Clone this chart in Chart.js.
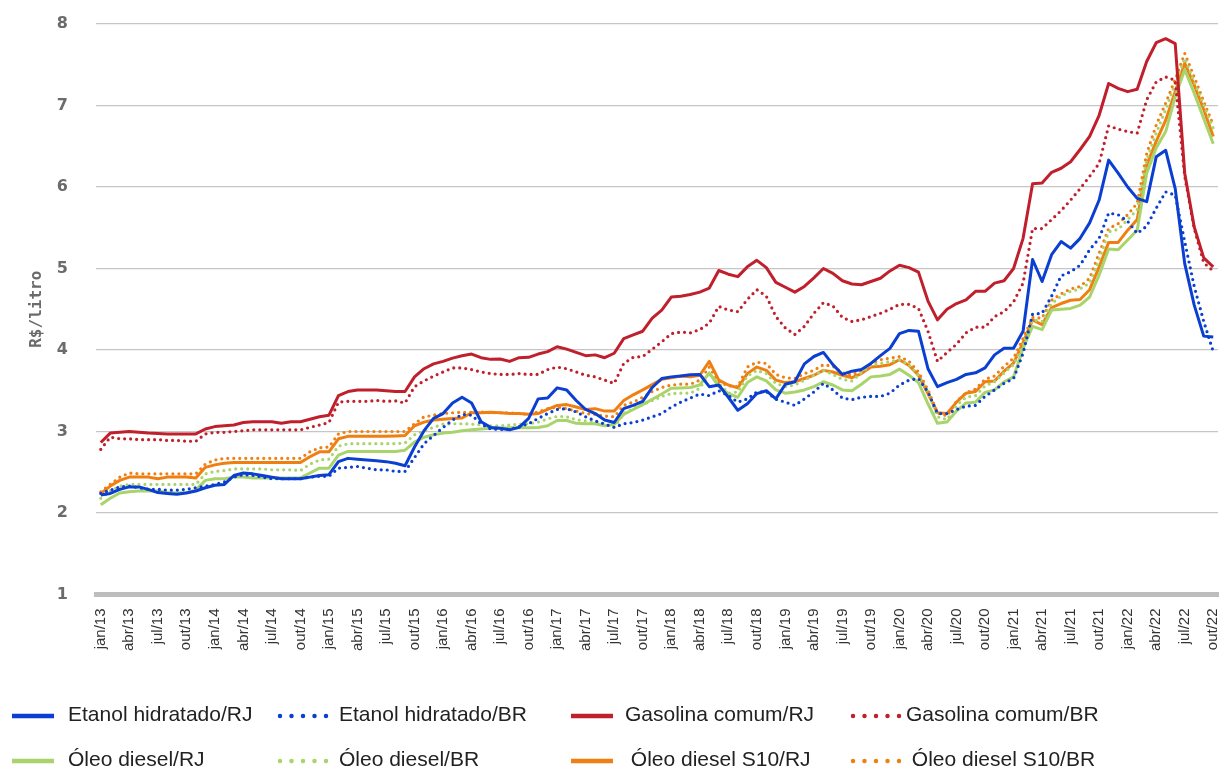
<!DOCTYPE html>
<html lang="pt-BR">
<head>
<meta charset="utf-8">
<title>Preços de combustíveis - RJ e BR</title>
<script src="https://cdn.jsdelivr.net/npm/chart.js@4.4.1/dist/chart.umd.min.js"></script>
<style>
  html, body { margin: 0; padding: 0; background: #fff; }
  #wrap { position: relative; width: 1222px; height: 771px; }
  #legenda { position: absolute; left: 0; top: 0; width: 1222px; height: 771px; pointer-events: none; }
  .item { position: absolute; height: 30px; }
  .item svg { position: absolute; top: 12px; }
  .item span { position: absolute; top: 2px; white-space: pre; font-family: "Liberation Sans", Arial, sans-serif; font-size: 21px; color: #222; }
</style>
</head>
<body>
<div id="wrap">
  <canvas id="grafico" width="1222" height="771"></canvas>
  <div id="legenda"></div>
</div>
<script>
// meses jan/13 ... out/22
const nomesMes = ['jan','fev','mar','abr','mai','jun','jul','ago','set','out','nov','dez'];
const anos = ['13','14','15','16','17','18','19','20','21','22'];
let meses = [];
for (let a = 0; a < anos.length; a++) {
    for (let m = 0; m < 12; m++) {
        if (anos[a] === '22' && m > 9) break;
        meses.push(nomesMes[m] + '/' + anos[a]);
    }
}

// R$/litro
let etanolRJ = [2.22,2.24,2.29,2.32,2.32,2.29,2.25,2.24,2.23,2.245,2.27,2.31,
    2.34,2.35,2.46,2.49,2.48,2.46,2.44,2.42,2.42,2.42,2.44,2.46,
    2.47,2.63,2.67,2.66,2.65,2.64,2.63,2.61,2.58,2.81,3.01,3.16,
    3.22,3.35,3.42,3.35,3.12,3.05,3.04,3.02,3.05,3.16,3.40,3.41,
    3.535,3.51,3.38,3.27,3.22,3.14,3.11,3.28,3.32,3.37,3.54,3.65,
    3.67,3.68,3.695,3.70,3.55,3.57,3.42,3.26,3.34,3.465,3.50,3.40,
    3.58,3.61,3.83,3.92,3.97,3.82,3.70,3.74,3.76,3.835,3.93,4.02,
    4.20,4.24,4.23,3.77,3.55,3.60,3.64,3.70,3.72,3.78,3.94,4.02,
    4.02,4.23,5.11,4.84,5.17,5.33,5.25,5.37,5.56,5.84,6.33,6.17,
    6.00,5.86,5.82,6.37,6.45,5.98,5.06,4.55,4.17,4.16];
let etanolBR = [2.24,2.28,2.32,2.33,2.31,2.29,2.29,2.28,2.28,2.29,2.31,2.33,
    2.35,2.38,2.44,2.47,2.46,2.44,2.42,2.42,2.42,2.42,2.44,2.45,
    2.45,2.55,2.56,2.57,2.55,2.53,2.53,2.51,2.51,2.68,2.85,2.95,
    3.05,3.14,3.21,3.20,3.095,3.03,3.025,3.025,3.06,3.095,3.16,3.22,
    3.27,3.28,3.24,3.18,3.13,3.09,3.05,3.095,3.11,3.14,3.18,3.22,
    3.30,3.36,3.41,3.46,3.44,3.50,3.44,3.36,3.40,3.485,3.49,3.395,
    3.36,3.32,3.40,3.485,3.59,3.51,3.41,3.39,3.42,3.43,3.43,3.47,
    3.57,3.63,3.65,3.485,3.22,3.22,3.27,3.31,3.32,3.43,3.51,3.59,
    3.65,3.96,4.44,4.45,4.66,4.91,4.96,5.04,5.23,5.37,5.68,5.66,
    5.58,5.43,5.52,5.74,5.94,5.90,5.33,4.78,4.35,3.98];
let gasolinaRJ = [2.865,2.98,2.99,3.0,2.99,2.98,2.975,2.97,2.97,2.97,2.97,3.03,
    3.06,3.07,3.08,3.11,3.12,3.12,3.12,3.10,3.12,3.12,3.15,3.18,
    3.20,3.44,3.49,3.51,3.51,3.51,3.50,3.49,3.49,3.67,3.77,3.83,
    3.86,3.90,3.93,3.95,3.905,3.885,3.89,3.86,3.905,3.91,3.95,3.98,
    4.04,4.01,3.97,3.93,3.94,3.905,3.96,4.14,4.185,4.23,4.39,4.49,
    4.65,4.66,4.68,4.71,4.76,4.975,4.93,4.90,5.02,5.10,5.01,4.83,
    4.77,4.71,4.78,4.885,5.0,4.94,4.85,4.81,4.80,4.84,4.88,4.97,
    5.04,5.01,4.955,4.60,4.37,4.50,4.57,4.615,4.72,4.72,4.82,4.85,
    5.0,5.37,6.04,6.05,6.18,6.23,6.31,6.46,6.62,6.88,7.27,7.21,
    7.17,7.2,7.54,7.77,7.82,7.76,6.17,5.51,5.13,5.02];
let gasolinaBR = [2.78,2.93,2.91,2.91,2.90,2.90,2.90,2.89,2.89,2.88,2.88,2.97,
    2.99,2.99,3.0,3.01,3.02,3.02,3.02,3.02,3.02,3.02,3.05,3.08,
    3.11,3.36,3.37,3.37,3.37,3.38,3.37,3.375,3.35,3.55,3.62,3.68,
    3.73,3.78,3.78,3.76,3.73,3.71,3.70,3.70,3.71,3.70,3.70,3.76,
    3.79,3.77,3.73,3.69,3.67,3.63,3.59,3.835,3.91,3.92,4.01,4.10,
    4.20,4.22,4.21,4.25,4.33,4.535,4.49,4.47,4.62,4.74,4.66,4.41,
    4.27,4.19,4.29,4.45,4.58,4.54,4.40,4.35,4.37,4.41,4.45,4.50,
    4.56,4.56,4.51,4.23,3.86,3.97,4.07,4.21,4.28,4.28,4.41,4.47,
    4.59,4.82,5.49,5.49,5.60,5.71,5.84,5.98,6.13,6.29,6.75,6.71,
    6.68,6.66,7.07,7.29,7.35,7.31,6.13,5.49,5.07,4.97];
let dieselRJ = [2.10,2.18,2.245,2.26,2.27,2.27,2.27,2.25,2.245,2.25,2.28,2.40,
    2.42,2.42,2.44,2.44,2.43,2.43,2.43,2.43,2.43,2.43,2.49,2.55,
    2.55,2.71,2.755,2.755,2.755,2.755,2.755,2.755,2.77,2.87,2.93,2.96,
    2.98,2.99,3.01,3.02,3.03,3.04,3.04,3.045,3.045,3.045,3.05,3.07,
    3.135,3.135,3.10,3.095,3.095,3.07,3.085,3.21,3.27,3.33,3.395,3.46,
    3.53,3.535,3.54,3.57,3.72,3.55,3.465,3.42,3.60,3.67,3.62,3.51,
    3.47,3.485,3.51,3.55,3.61,3.57,3.51,3.50,3.58,3.67,3.68,3.70,
    3.765,3.69,3.60,3.34,3.10,3.115,3.25,3.35,3.36,3.48,3.51,3.61,
    3.67,4.02,4.29,4.25,4.49,4.50,4.51,4.55,4.65,4.92,5.24,5.23,
    5.35,5.47,6.17,6.48,6.68,7.11,7.44,7.15,6.84,6.53];
let dieselBR = [2.18,2.27,2.33,2.35,2.35,2.35,2.35,2.35,2.35,2.35,2.35,2.48,
    2.51,2.52,2.54,2.54,2.54,2.54,2.53,2.53,2.53,2.52,2.60,2.65,
    2.66,2.82,2.85,2.85,2.85,2.85,2.85,2.85,2.86,2.96,3.01,3.05,
    3.09,3.095,3.095,3.09,3.08,3.07,3.07,3.08,3.09,3.095,3.115,3.155,
    3.185,3.18,3.145,3.13,3.115,3.095,3.05,3.22,3.28,3.33,3.38,3.43,
    3.465,3.47,3.47,3.53,3.71,3.59,3.47,3.485,3.68,3.75,3.71,3.59,
    3.55,3.57,3.63,3.69,3.75,3.70,3.64,3.62,3.72,3.815,3.835,3.86,
    3.88,3.815,3.69,3.485,3.18,3.145,3.32,3.42,3.44,3.56,3.61,3.72,
    3.82,4.06,4.37,4.35,4.57,4.66,4.72,4.75,4.82,5.11,5.45,5.48,
    5.60,5.72,6.33,6.66,6.95,7.27,7.58,7.29,7.01,6.72];
let s10RJ = [2.24,2.33,2.40,2.44,2.44,2.44,2.42,2.44,2.44,2.44,2.43,2.56,
    2.59,2.61,2.62,2.62,2.62,2.62,2.62,2.62,2.62,2.62,2.69,2.75,
    2.75,2.91,2.94,2.94,2.94,2.94,2.94,2.945,2.95,3.07,3.115,3.14,
    3.15,3.16,3.165,3.23,3.23,3.235,3.23,3.22,3.22,3.21,3.22,3.27,
    3.32,3.33,3.30,3.27,3.28,3.25,3.25,3.38,3.45,3.51,3.575,3.64,
    3.66,3.68,3.67,3.69,3.86,3.63,3.57,3.535,3.71,3.79,3.75,3.63,
    3.60,3.61,3.65,3.69,3.75,3.73,3.69,3.66,3.71,3.79,3.80,3.82,
    3.88,3.81,3.69,3.465,3.23,3.22,3.36,3.47,3.49,3.61,3.62,3.74,
    3.84,4.09,4.37,4.31,4.52,4.57,4.61,4.62,4.74,5.02,5.32,5.32,
    5.47,5.60,6.27,6.56,6.82,7.17,7.52,7.25,6.95,6.62];
let s10BR = [2.26,2.35,2.44,2.49,2.48,2.48,2.48,2.48,2.48,2.48,2.48,2.60,
    2.65,2.67,2.67,2.67,2.67,2.67,2.67,2.67,2.67,2.67,2.75,2.80,
    2.81,2.97,3.0,3.0,3.0,3.0,3.0,3.0,3.0,3.095,3.18,3.20,
    3.22,3.23,3.235,3.235,3.24,3.23,3.23,3.23,3.22,3.21,3.24,3.28,
    3.30,3.28,3.25,3.22,3.21,3.19,3.18,3.32,3.36,3.42,3.49,3.54,
    3.57,3.58,3.58,3.63,3.79,3.61,3.56,3.55,3.79,3.85,3.835,3.70,
    3.66,3.65,3.71,3.75,3.82,3.80,3.72,3.69,3.75,3.835,3.88,3.90,
    3.92,3.86,3.73,3.51,3.23,3.19,3.37,3.475,3.52,3.64,3.68,3.80,
    3.90,4.14,4.40,4.39,4.61,4.69,4.75,4.78,4.88,5.19,5.49,5.55,
    5.66,5.80,6.41,6.76,7.03,7.32,7.64,7.35,7.05,6.76];

const azul = '#0a3fd1';
const vermelho = '#c01f2c';
const verde = '#a9d46b';
const laranja = '#f07f12';
const pontilhado = [0, 6];

let series = [
    { label: 'Etanol hidratado/RJ', data: etanolRJ, cor: azul, pont: false },
    { label: 'Etanol hidratado/BR', data: etanolBR, cor: azul, pont: true },
    { label: 'Gasolina comum/RJ', data: gasolinaRJ, cor: vermelho, pont: false },
    { label: 'Gasolina comum/BR', data: gasolinaBR, cor: vermelho, pont: true },
    { label: 'Óleo diesel/RJ', data: dieselRJ, cor: verde, pont: false },
    { label: 'Óleo diesel/BR', data: dieselBR, cor: verde, pont: true },
    { label: ' Óleo diesel S10/RJ', data: s10RJ, cor: laranja, pont: false },
    { label: ' Óleo diesel S10/BR', data: s10BR, cor: laranja, pont: true }
];

let datasets = series.map(s => ({
    label: s.label,
    data: s.data,
    borderColor: s.cor,
    backgroundColor: s.cor,
    borderWidth: s.pont ? 3.2 : 3,
    borderDash: s.pont ? pontilhado : [],
    borderCapStyle: s.pont ? 'round' : 'butt',
    borderJoinStyle: 'round',
    pointRadius: 0,
    tension: 0,
    fill: false
}));

let ctx = document.getElementById('grafico').getContext('2d');
let grafico = new Chart(ctx, {
    type: 'line',
    data: { labels: meses, datasets: datasets },
    options: {
        responsive: false,
        animation: false,
        layout: { padding: { left: 27, right: 4, top: 24, bottom: 114 } },
        plugins: {
            legend: { display: false },
            tooltip: { enabled: false }
        },
        scales: {
            x: {
                offset: true,
                grid: { display: false },
                border: { display: true, color: '#bdbdbd', width: 5 },
                afterFit: function(s) { s.paddingLeft = 0; s.paddingRight = 0; },
                ticks: {
                    autoSkip: false,
                    minRotation: 90,
                    maxRotation: 90,
                    padding: 6,
                    color: '#333',
                    font: { family: 'Liberation Sans', size: 15 },
                    callback: function(v, i) { return i % 3 === 0 ? meses[i] : ''; }
                }
            },
            y: {
                min: 1,
                max: 8,
                border: { display: false },
                grid: { color: '#c6c6c6', lineWidth: 1.2, drawTicks: false },
                afterFit: function(s) { s.paddingTop = 0; s.paddingBottom = 0; s.width = 69; },
                ticks: {
                    stepSize: 1,
                    padding: 28,
                    color: '#6b6b6b',
                    font: { family: 'DejaVu Sans', size: 16, weight: 'bold' }
                },
                title: {
                    display: true,
                    text: 'R$/litro',
                    color: '#6b6b6b',
                    font: { family: 'DejaVu Sans Mono', size: 16, weight: 'bold' },
                    padding: { top: 0, bottom: 10 }
                }
            }
        }
    }
});

// legenda em 2 linhas x 4 colunas
let colAmostra = [12, 277, 571, 850];
let colTexto = [68, 339, 625, 906];
let linhaTopo = [700, 745];
let legenda = document.getElementById('legenda');
series.forEach((s, k) => {
    let col = k % 4;
    let lin = k < 4 ? 0 : 1;
    let div = document.createElement('div');
    div.className = 'item';
    div.style.left = '0px';
    div.style.top = linhaTopo[lin] + 'px';
    let larg = s.pont ? 52 : 42;
    let svg = '<svg width="' + (larg + 4) + '" height="8" style="left:' + colAmostra[col] + 'px">';
    if (s.pont) {
        svg += '<line x1="3" y1="4" x2="' + larg + '" y2="4" stroke="' + s.cor + '" stroke-width="4.5" stroke-linecap="round" stroke-dasharray="0 11.5"/>';
    } else {
        svg += '<line x1="0" y1="4" x2="' + larg + '" y2="4" stroke="' + s.cor + '" stroke-width="4.5"/>';
    }
    svg += '</svg>';
    div.innerHTML = svg + '<span style="left:' + colTexto[col] + 'px">' + s.label + '</span>';
    legenda.appendChild(div);
});
</script>
</body>
</html>
